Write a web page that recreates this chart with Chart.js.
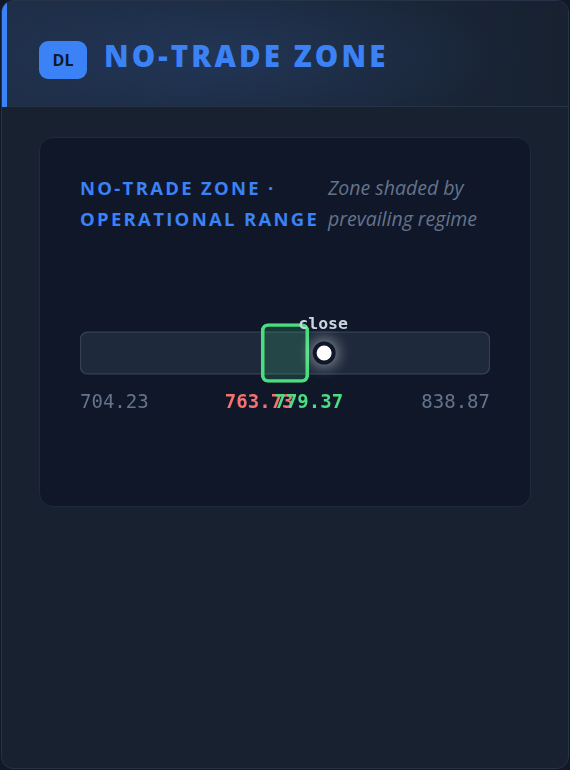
<!DOCTYPE html>
<html>
<head>
<meta charset="utf-8">
<script src="https://cdn.jsdelivr.net/npm/chart.js@4.4.1/dist/chart.umd.min.js"></script>
<style>
  html, body { margin: 0; padding: 0; background: #111827; width: 570px; height: 770px; overflow: hidden; }
  .card { position: absolute; left: 1px; top: 0; width: 566px; height: 767px; background: #18212f;
          border: 1px solid #263245; border-radius: 12px; overflow: hidden; font-family: "Open Sans", sans-serif; }
  .header { position: absolute; left: 0; top: 0; width: 566px; height: 105px; border-bottom: 1px solid #263245;
            background: radial-gradient(ellipse 320px 90px at 200px 55px, #213555 0%, rgba(33,53,85,0) 100%),
                        linear-gradient(90deg, #1e2d45 0%, #1a2638 60%, #172130 100%); }
  .accent { position: absolute; left: 0; top: 0; width: 5px; height: 106px; background: #3b82f6; }
  .badge { position: absolute; left: 37px; top: 40px; width: 48px; height: 38px; border-radius: 9px;
           background: #3b82f6; color: #0f172a; font-weight: 700; font-size: 16px; line-height: 38px; text-align: center; }
  .htitle { position: absolute; left: 102px; top: 35px; color: #3b82f6; font-weight: 800; font-size: 29.5px;
            letter-spacing: 3.1px; line-height: 40px; white-space: nowrap; }
  .panel { position: absolute; left: 37px; top: 136px; width: 490px; height: 368px; background: #0f1729;
           border: 1px solid #1f2a3b; border-radius: 14px; }
  .ptitle { position: absolute; left: 40px; top: 34px; color: #3b82f6; font-weight: 700; font-size: 18.5px;
            letter-spacing: 2.3px; line-height: 31px; white-space: nowrap; }
  .psub { position: absolute; left: 288px; top: 34px; color: #64748b; font-style: italic; font-size: 19.5px;
          line-height: 31px; white-space: nowrap; }
  .chartbox { position: absolute; left: 0; top: 163px; width: 490px; height: 130px; }
</style>
</head>
<body>
<div class="card">
  <div class="header">
    <div class="accent"></div>
    <div class="badge">DL</div>
    <div class="htitle">NO-TRADE ZONE</div>
  </div>
  <div class="panel">
    <div class="ptitle">NO-TRADE ZONE ·<br>OPERATIONAL RANGE</div>
    <div class="psub">Zone shaded by<br>prevailing regime</div>
    <div class="chartbox"><canvas id="zoneChart"></canvas></div>
  </div>
</div>
<script>
// range of the session and the shaded zone
const rangeBounds = [704.23, 838.87];
const zoneBounds = [763.73, 779.37];
const closeValue = 784.4;
const rowLabels = ['range'];

const monoFont = '"DejaVu Sans Mono", monospace';

// glow behind the close marker + value labels under the bar
const zoneLabels = {
    id: 'zoneLabels',
    beforeDatasetDraw(chart, args) {
        if (args.index === 2) {
            chart.ctx.save();
            chart.ctx.shadowColor = 'rgba(255,255,255,0.6)';
            chart.ctx.shadowBlur = 16;
        }
    },
    afterDatasetDraw(chart, args) {
        if (args.index === 2) chart.ctx.restore();
    },
    afterDatasetsDraw(chart) {
        const ctx = chart.ctx;
        const x = chart.scales.x;
        const yc = chart.scales.y.getPixelForValue(0);
        const ly = yc + 50;
        ctx.save();
        ctx.textBaseline = 'middle';

        ctx.font = '19px ' + monoFont;
        ctx.fillStyle = '#64748b';
        ctx.textAlign = 'left';
        ctx.fillText(rangeBounds[0].toFixed(2), x.getPixelForValue(rangeBounds[0]), ly);
        ctx.textAlign = 'right';
        ctx.fillText(rangeBounds[1].toFixed(2), x.getPixelForValue(rangeBounds[1]), ly);

        ctx.font = 'bold 19px ' + monoFont;
        ctx.textAlign = 'center';
        ctx.fillStyle = '#f87171';
        ctx.fillText(zoneBounds[0].toFixed(2), x.getPixelForValue(zoneBounds[0]) - 2, ly);
        ctx.fillStyle = '#4ade80';
        ctx.fillText(zoneBounds[1].toFixed(2), x.getPixelForValue(zoneBounds[1]), ly);

        ctx.font = 'bold 16.5px ' + monoFont;
        ctx.fillStyle = '#cbd5e1';
        ctx.fillText('close', x.getPixelForValue(closeValue) - 1, yc - 28);
        ctx.restore();
    }
};

new Chart(document.getElementById('zoneChart'), {
    type: 'bar',
    data: {
        labels: rowLabels,
        datasets: [
            { label: 'Zone', data: [zoneBounds], barThickness: 59, grouped: false, order: 1,
              backgroundColor: 'rgba(74,222,128,0.16)', borderColor: '#4ade80', borderWidth: 3,
              borderRadius: 7, borderSkipped: false },
            { label: 'Range', data: [rangeBounds], barThickness: 43, grouped: false, order: 3,
              backgroundColor: '#1e293b', borderColor: '#334155', borderWidth: 1.5,
              borderRadius: 8, borderSkipped: false },
            { type: 'line', label: 'close', data: [{ x: closeValue, y: 'range' }], showLine: false, order: 0,
              pointRadius: 9.5, pointHoverRadius: 9.5, pointBackgroundColor: '#ffffff',
              pointBorderColor: '#0f172a', pointBorderWidth: 4 }
        ]
    },
    options: {
        indexAxis: 'y',
        responsive: true,
        maintainAspectRatio: false,
        animation: false,
        layout: { padding: { left: 40, right: 40, top: 14, bottom: 40 } },
        scales: {
            x: { type: 'linear', min: rangeBounds[0], max: rangeBounds[1], display: false },
            y: { type: 'category', display: false }
        },
        plugins: { legend: { display: false }, tooltip: { enabled: false } }
    },
    plugins: [zoneLabels]
});
</script>
</body>
</html>
